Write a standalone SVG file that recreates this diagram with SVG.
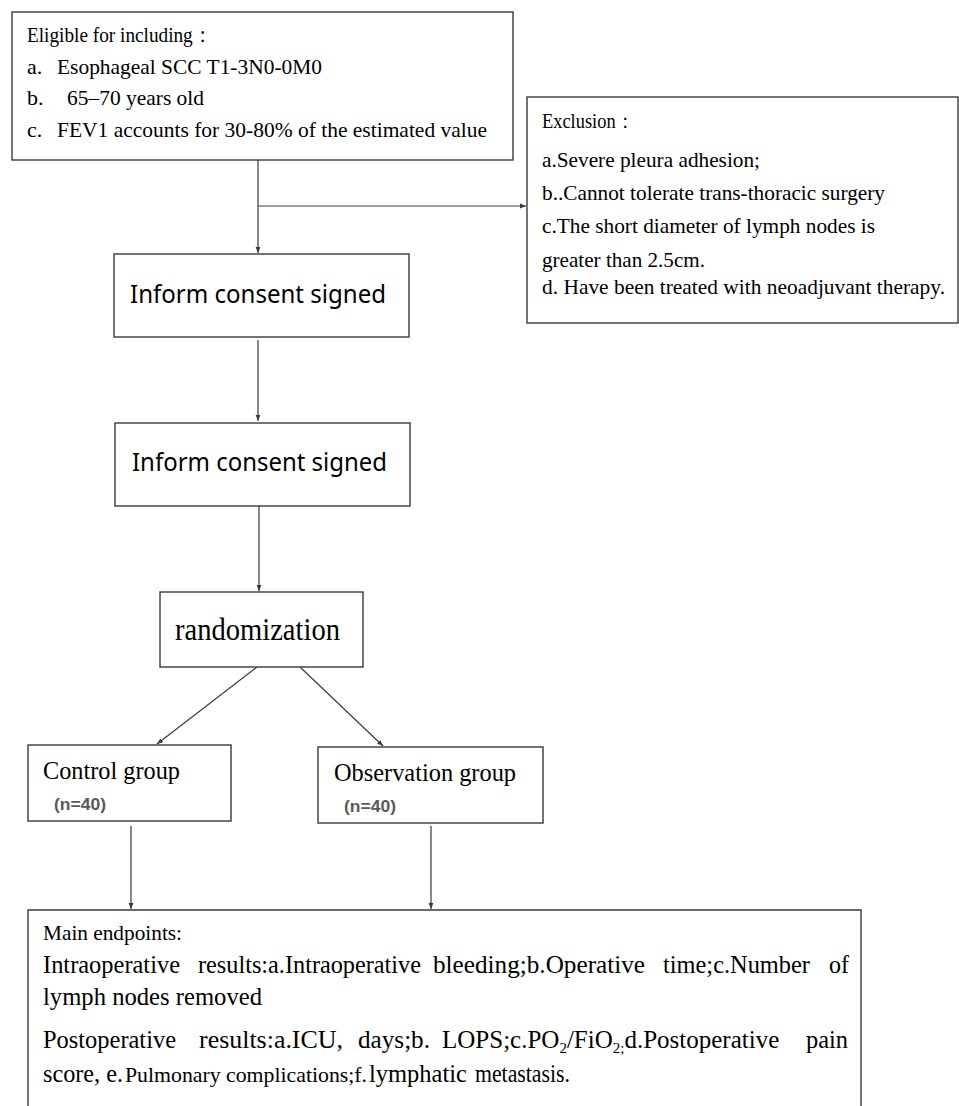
<svg xmlns="http://www.w3.org/2000/svg" width="959" height="1106" viewBox="0 0 959 1106">
<style>
.box{fill:#fff;stroke:#3a3a3a;stroke-width:1.4}
.ln{fill:none;stroke:#3a3a3a;stroke-width:1.2}
.t{font-family:"Liberation Serif","Times New Roman",serif;fill:#000}
.s{font-family:"Noto Sans","Liberation Sans",sans-serif;fill:#000}
.n{font-family:"Liberation Sans",Arial,sans-serif;font-weight:bold;fill:#595959;font-size:16px}
</style>
<defs>
<marker id="ah" viewBox="0 0 10 10" refX="10" refY="5" markerWidth="6" markerHeight="6" markerUnits="userSpaceOnUse" orient="auto">
<path d="M0,1 L10,5 L0,9 z" fill="#3a3a3a"/>
</marker>
</defs>
<rect width="959" height="1106" fill="#fff"/>

<g id="connectors">
<path class="ln" d="M258,160 V253" marker-end="url(#ah)"/>
<path class="ln" d="M258,206 H526" marker-end="url(#ah)"/>
<path class="ln" d="M258,340 V421" marker-end="url(#ah)"/>
<path class="ln" d="M259,506 V591" marker-end="url(#ah)"/>
<path class="ln" d="M257,667 L157,744" marker-end="url(#ah)"/>
<path class="ln" d="M300,667 L383,746" marker-end="url(#ah)"/>
<path class="ln" d="M131,826 V909" marker-end="url(#ah)"/>
<path class="ln" d="M431,826 V909" marker-end="url(#ah)"/>
</g>

<g id="eligible">
<rect class="box" x="12" y="12" width="501" height="148"/>
<text class="t" font-size="21" x="27" y="42" textLength="185" lengthAdjust="spacingAndGlyphs">Eligible for including：</text>
<text class="t" font-size="22" x="27" y="74">a.</text>
<text class="t" font-size="22" x="57" y="74" textLength="265" lengthAdjust="spacingAndGlyphs">Esophageal SCC T1-3N0-0M0</text>
<text class="t" font-size="22" x="27" y="105">b.</text>
<text class="t" font-size="22" x="67" y="105" textLength="137" lengthAdjust="spacingAndGlyphs">65–70 years old</text>
<text class="t" font-size="22" x="27" y="137">c.</text>
<text class="t" font-size="22" x="57" y="137" textLength="430" lengthAdjust="spacingAndGlyphs">FEV1 accounts for 30-80% of the estimated value</text>
</g>

<g id="exclusion">
<rect class="box" x="527" y="97" width="431" height="226"/>
<text class="t" font-size="20" x="542" y="128" textLength="92" lengthAdjust="spacingAndGlyphs">Exclusion：</text>
<text class="t" font-size="21" x="542" y="167" textLength="218" lengthAdjust="spacingAndGlyphs">a.Severe pleura adhesion;</text>
<text class="t" font-size="21" x="542" y="200" textLength="343" lengthAdjust="spacingAndGlyphs">b..Cannot tolerate trans-thoracic surgery</text>
<text class="t" font-size="21" x="542" y="233" textLength="333" lengthAdjust="spacingAndGlyphs">c.The short diameter of lymph nodes is</text>
<text class="t" font-size="21" x="542" y="267" textLength="163" lengthAdjust="spacingAndGlyphs">greater than 2.5cm.</text>
<text class="t" font-size="21" x="542" y="294" textLength="403" lengthAdjust="spacingAndGlyphs">d. Have been treated with neoadjuvant therapy.</text>
</g>

<g id="consent1">
<rect class="box" x="114" y="254" width="295" height="83"/>
<text class="s" font-size="25" x="130" y="303" textLength="256" lengthAdjust="spacingAndGlyphs">Inform consent signed</text>
</g>

<g id="consent2">
<rect class="box" x="115" y="423" width="295" height="83"/>
<text class="s" font-size="25" x="132" y="471" textLength="255" lengthAdjust="spacingAndGlyphs">Inform consent signed</text>
</g>

<g id="randomization">
<rect class="box" x="160" y="592" width="203" height="75"/>
<text class="t" font-size="31" x="175" y="640" textLength="165" lengthAdjust="spacingAndGlyphs">randomization</text>
</g>

<g id="control">
<rect class="box" x="28" y="745" width="203" height="76"/>
<text class="t" font-size="25" x="43" y="779" textLength="137" lengthAdjust="spacingAndGlyphs">Control group</text>
<text class="n" x="54" y="810" textLength="52" lengthAdjust="spacingAndGlyphs">(n=40)</text>
</g>

<g id="observation">
<rect class="box" x="318" y="747" width="225" height="76"/>
<text class="t" font-size="25" x="334" y="781" textLength="182" lengthAdjust="spacingAndGlyphs">Observation group</text>
<text class="n" x="344" y="812" textLength="52" lengthAdjust="spacingAndGlyphs">(n=40)</text>
</g>

<g id="endpoints">
<path class="box" d="M28,1110 V910 H861 V1110"/>
<text class="t" font-size="21" x="43" y="940" textLength="139" lengthAdjust="spacingAndGlyphs">Main endpoints:</text>
<g class="t" font-size="26">
<text x="43" y="973" textLength="137" lengthAdjust="spacingAndGlyphs">Intraoperative</text>
<text x="198" y="973" textLength="223" lengthAdjust="spacingAndGlyphs">results:a.Intraoperative</text>
<text x="433" y="973" textLength="212" lengthAdjust="spacingAndGlyphs">bleeding;b.Operative</text>
<text x="663" y="973" textLength="147" lengthAdjust="spacingAndGlyphs">time;c.Number</text>
<text x="829" y="973" textLength="20" lengthAdjust="spacingAndGlyphs">of</text>
<text x="43" y="1005" textLength="219" lengthAdjust="spacingAndGlyphs">lymph nodes removed</text>
<text x="43" y="1048" textLength="133" lengthAdjust="spacingAndGlyphs">Postoperative</text>
<text x="199" y="1048" textLength="144" lengthAdjust="spacingAndGlyphs">results:a.ICU,</text>
<text x="358" y="1048" textLength="72" lengthAdjust="spacingAndGlyphs">days;b.</text>
<text x="442" y="1048" font-size="25">LOPS;c.PO<tspan font-size="15" dy="5">2</tspan><tspan dy="-5">/FiO</tspan><tspan font-size="15" dy="5">2;</tspan><tspan dy="-5">d.Postoperative</tspan></text>
<text x="806" y="1048" textLength="42" lengthAdjust="spacingAndGlyphs">pain</text>
<text x="43" y="1082" textLength="80" lengthAdjust="spacingAndGlyphs">score, e.</text>
<text x="125" y="1082" font-size="22" textLength="242" lengthAdjust="spacingAndGlyphs">Pulmonary complications;f.</text>
<text x="369" y="1082" textLength="98" lengthAdjust="spacingAndGlyphs">lymphatic</text>
<text x="475" y="1082" textLength="95" lengthAdjust="spacingAndGlyphs">metastasis.</text>
</g>
</g>
</svg>
